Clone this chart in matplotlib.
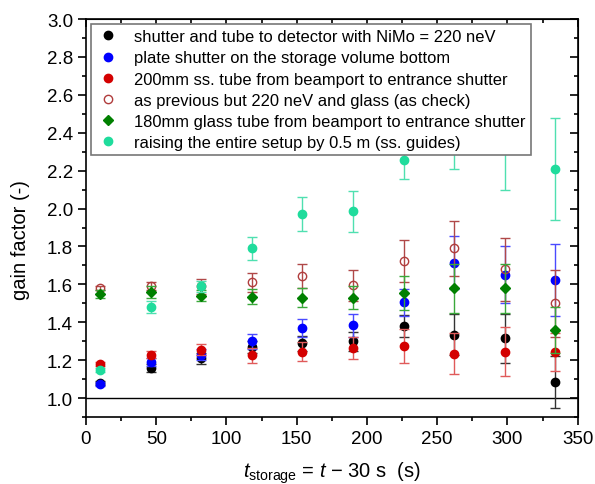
import matplotlib
matplotlib.use("Agg")
from matplotlib import pyplot as plt
from matplotlib.lines import Line2D
from matplotlib.ticker import MultipleLocator, FormatStrFormatter

plt.rcParams['font.family'] = ['Liberation Sans', 'DejaVu Sans']
plt.rcParams['mathtext.fontset'] = 'custom'
plt.rcParams['mathtext.rm'] = 'Liberation Sans'
plt.rcParams['mathtext.it'] = 'Liberation Sans:italic'

t_storage = [10, 46, 82, 118, 154, 190, 226, 262, 298, 334]

labels = [
    "shutter and tube to detector with NiMo = 220 neV",
    "plate shutter on the storage volume bottom",
    "200mm ss. tube from beamport to entrance shutter",
    "as previous but 220 neV and glass (as check)",
    "180mm glass tube from beamport to entrance shutter",
    "raising the entire setup by 0.5 m (ss. guides)",
]

gain_nimo = [1.08, 1.16, 1.21, 1.27, 1.29, 1.30, 1.38, 1.335, 1.315, 1.085]
err_nimo = [0.01, 0.02, 0.03, 0.03, 0.04, 0.05, 0.06, 0.11, 0.13, 0.137]

gain_plate = [1.075, 1.19, 1.23, 1.30, 1.37, 1.385, 1.505, 1.715, 1.65, 1.625]
err_plate = [0.01, 0.02, 0.03, 0.04, 0.05, 0.06, 0.07, 0.14, 0.15, 0.19]

gain_ss200 = [1.18, 1.23, 1.255, 1.225, 1.245, 1.265, 1.275, 1.235, 1.245, 1.245]
err_ss200 = [0.01, 0.02, 0.03, 0.04, 0.05, 0.06, 0.09, 0.106, 0.13, 0.10]

gain_check = [1.58, 1.59, 1.59, 1.61, 1.645, 1.595, 1.725, 1.79, 1.68, 1.50]
err_check = [0.01, 0.02, 0.04, 0.05, 0.065, 0.08, 0.11, 0.145, 0.165, 0.175]

gain_glass = [1.55, 1.56, 1.54, 1.535, 1.53, 1.53, 1.555, 1.58, 1.58, 1.36]
err_glass = [0.02, 0.03, 0.03, 0.04, 0.05, 0.06, 0.09, 0.13, 0.13, 0.12]

gain_raise = [1.15, 1.48, 1.59, 1.79, 1.97, 1.985, 2.255, 2.45, 2.38, 2.21]
err_raise = [0.01, 0.03, 0.03, 0.06, 0.09, 0.11, 0.10, 0.24, 0.28, 0.27]

series = [
    (gain_nimo, err_nimo, 'o', '#000000', '#000000', '#333333'),
    (gain_plate, err_plate, 'o', '#0000ff', '#0000ff', '#4a4aff'),
    (gain_ss200, err_ss200, 'o', '#d40000', '#d40000', '#e05a5a'),
    (gain_check, err_check, 'o', 'none', '#b03c3c', '#b04848'),
    (gain_glass, err_glass, 'D', '#008000', '#008000', '#3aa83a'),
    (gain_raise, err_raise, 'o', '#1fdc9c', '#1fdc9c', '#4fe0b0'),
]

fig = plt.figure(figsize=(5.95, 4.85), dpi=100)
ax = fig.add_axes([0.1445, 0.138, 0.8265, 0.8207])

handles = []
for (g, e, m, fc, ec, bc), lab in zip(series, labels):
    ms = 5.5 if m == 'D' else 6
    ax.errorbar(t_storage, g, yerr=e, fmt='none', ecolor=bc, elinewidth=1.0,
                capsize=3.5, capthick=1.0)
    ax.plot(t_storage, g, linestyle='none', marker=m, markersize=ms,
            markerfacecolor=fc, markeredgecolor=ec, markeredgewidth=1.0)
    handles.append(Line2D([], [], linestyle='none', marker=m, markersize=ms,
                          markerfacecolor=fc, markeredgecolor=ec,
                          markeredgewidth=1.0, label=lab))

ax.axhline(1.0, color='black', linewidth=1.0, zorder=1)

ax.set_xlim(0, 350)
ax.set_ylim(0.9, 3.0)
ax.xaxis.set_major_locator(MultipleLocator(50))
ax.xaxis.set_minor_locator(MultipleLocator(25))
ax.set_yticks([1.0 + 0.2 * i for i in range(11)])
ax.yaxis.set_minor_locator(MultipleLocator(0.1))
ax.yaxis.set_major_formatter(FormatStrFormatter('%.1f'))

# left/bottom ticks point out, top/right point in
ax.tick_params(which='both', labelsize=13.5, width=1.2, direction='out')
ax.tick_params(which='major', length=5.8)
ax.tick_params(which='minor', length=3)

ax2 = ax.secondary_xaxis('top')
ax2.xaxis.set_major_locator(MultipleLocator(50))
ax2.xaxis.set_minor_locator(MultipleLocator(25))
ax3 = ax.secondary_yaxis('right')
ax3.yaxis.set_major_locator(MultipleLocator(0.2))
ax3.yaxis.set_minor_locator(MultipleLocator(0.1))
for sec in (ax2, ax3):
    sec.tick_params(which='both', direction='in', width=1.2,
                    labeltop=False, labelright=False)
    sec.tick_params(which='major', length=5.8)
    sec.tick_params(which='minor', length=3)

for sp in ax.spines.values():
    sp.set_linewidth(1.2)

ax.set_xlabel(r'$t_{\mathrm{storage}}$ = $t$ $-$ 30 s  (s)', fontsize=14.5, labelpad=9)
ax.set_ylabel('gain factor (-)', fontsize=14.5)
ax.yaxis.set_label_coords(-0.114, 0.447)

leg = ax.legend(handles=handles, loc='upper left', fontsize=11.9,
                frameon=True, fancybox=False, edgecolor='#777777', framealpha=1,
                borderaxespad=0.3, handlelength=1.45, handletextpad=0.85,
                labelspacing=0.37, borderpad=0.32)
leg.get_frame().set_linewidth(1.2)
leg.set_zorder(10)

fig.savefig('out.png', dpi=100)
